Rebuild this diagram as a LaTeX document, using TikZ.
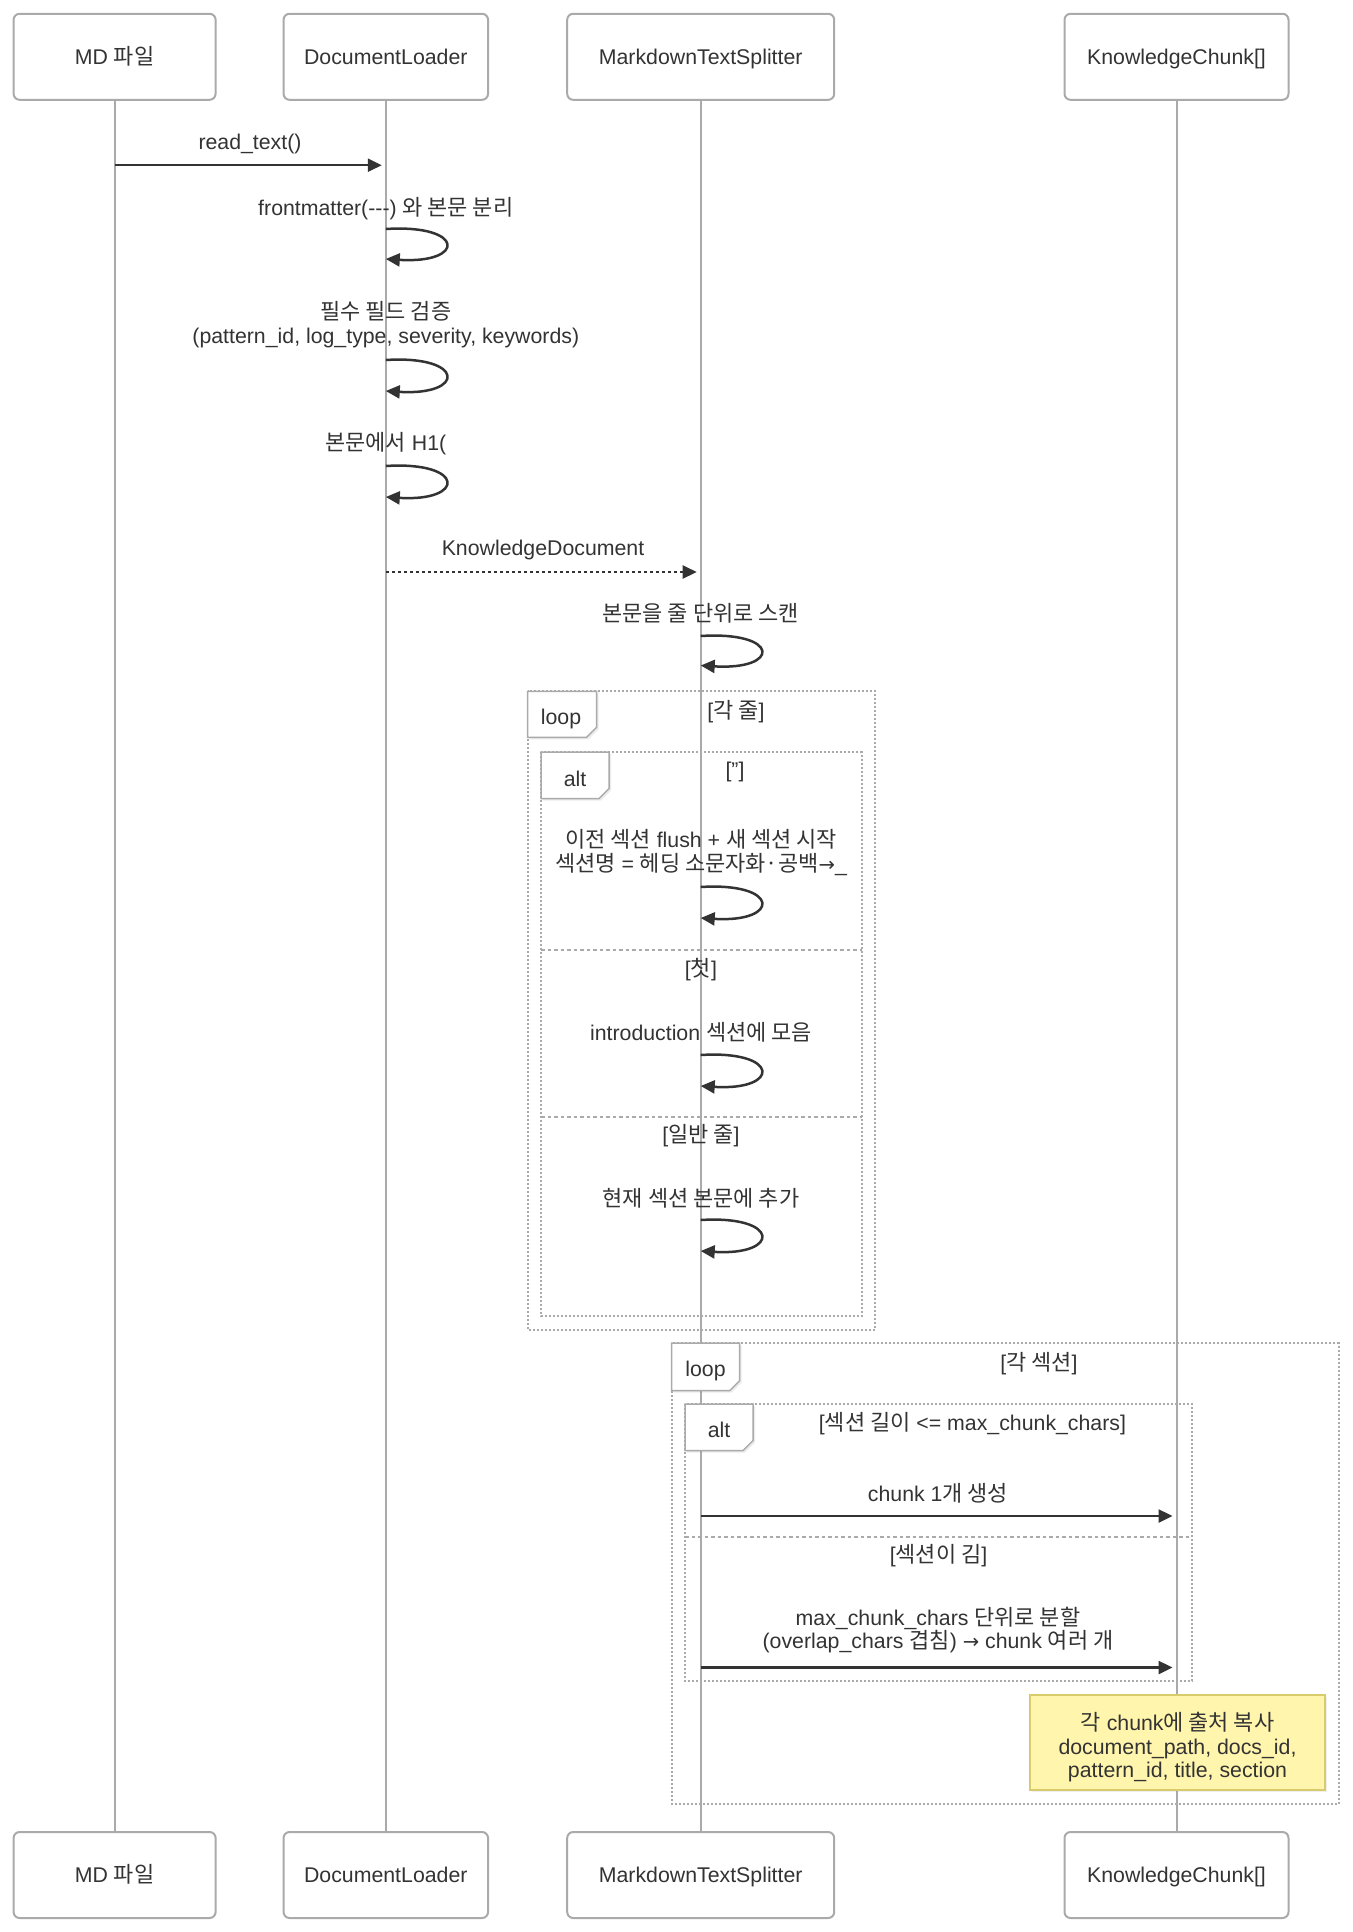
\documentclass[tikz,border=0pt]{standalone}
\usepackage{fontspec}
\setmainfont{Liberation Sans}
\newfontfamily\kr{Noto Sans CJK KR}[Scale=1.03]
\newfontfamily\djv{DejaVu Sans}[Scale=0.92]
\usetikzlibrary{arrows.meta,shadows,calc}
\newcommand\K[1]{{\kr #1}}
\newcommand\RA{{\djv →}}
\definecolor{ink}{HTML}{333333}
\definecolor{lg}{HTML}{AAAAAA}
\definecolor{notefill}{HTML}{FFF5AD}
\definecolor{noteline}{HTML}{D8CB6C}
\tikzset{
  actor/.style={draw=lg, line width=2pt, rounded corners=6pt, fill=white, minimum height=86pt, text=ink, inner sep=0pt, text height=15.3pt, text depth=0pt},
  lifeline/.style={draw=lg, line width=2pt},
  msg/.style={draw=ink, line width=2.5pt, -{Triangle[length=14pt,width=13pt]}},
  reply/.style={msg, dash pattern=on 3pt off 3pt},
  frame/.style={draw=lg, line width=2pt, dash pattern=on 2pt off 2pt},
  divider/.style={draw=lg, line width=2pt, dash pattern=on 3.5pt off 3pt},
  tab/.style={draw=lg, line width=1.5pt, fill=white, drop shadow={shadow xshift=2pt, shadow yshift=-2pt, opacity=0.15}},
  lbl/.style={text=ink, inner sep=0pt, yshift=-2.5pt},
  note/.style={draw=noteline, line width=2pt, fill=notefill, text=ink, inner sep=0pt,
     drop shadow={shadow xshift=2pt, shadow yshift=-2pt, opacity=0.12}},
}
\begin{document}
\begin{tikzpicture}[x=1pt,y=-1pt, every node/.append style={font=\fontsize{21.3}{23.5}\selectfont}]
\useasboundingbox[fill=white] (0,0) rectangle (1352,1932);

% actors
\node[actor, minimum width=202pt]   (md)  at (114.6,56.8) {MD \K{파일}};
\node[actor, minimum width=204.5pt] (dl)  at (385.8,56.8) {DocumentLoader};
\node[actor, minimum width=267pt]   (mts) at (700.7,56.8) {MarkdownTextSplitter};
\node[actor, minimum width=224pt]   (kc)  at (1176.5,56.8) {KnowledgeChunk[]};
\node[actor, minimum width=202pt]   (mdb)  at (114.6,1875) {MD \K{파일}};
\node[actor, minimum width=204.5pt] (dlb)  at (385.8,1875) {DocumentLoader};
\node[actor, minimum width=267pt]   (mtsb) at (700.7,1875) {MarkdownTextSplitter};
\node[actor, minimum width=224pt]   (kcb)  at (1176.5,1875) {KnowledgeChunk[]};

% frames (behind lifelines)
\draw[frame] (527.5,691.4) rectangle (875,1330);
\draw[frame] (541,752) rectangle (861.5,1316);
\draw[divider] (541,950) -- (861.5,950);
\draw[divider] (541,1116.6) -- (861.5,1116.6);
\draw[frame] (671.7,1343) rectangle (1338.5,1804);
\draw[frame] (685,1404) rectangle (1192,1681);
\draw[divider] (685,1537) -- (1192,1537);

% lifelines
\draw[lifeline] (md.south) -- (mdb.north);
\draw[lifeline] (dl.south) -- (dlb.north);
\draw[lifeline] (mts.south) -- (mtsb.north);
\draw[lifeline] (kc.south) -- (kcb.north);

% tabs
\draw[tab] (527.5,691.4) -- ++(69,0) -- ++(0,36) -- ++(-10,10) -- ++(-59,0) -- cycle;
\node[lbl] (lp1) at (561,716) {loop};
\node[lbl] (c1) at (736,708.7) {[\K{각 줄}]};
\draw[tab] (541,752) -- ++(68,0) -- ++(0,36.6) -- ++(-10,10) -- ++(-58,0) -- cycle;
\node[lbl] (al1) at (575,776) {alt};
\node[lbl] (c2) at (735,769) {["]};
\node[lbl] (c3) at (701,967.5) {[\K{첫}]};
\node[lbl] (c4) at (701,1132.7) {[\K{일반 줄}]};

\draw[tab] (671.7,1343) -- ++(68,0) -- ++(0,37.6) -- ++(-10,10) -- ++(-58,0) -- cycle;
\node[lbl] (lp2) at (705.5,1368) {loop};
\node[lbl] (c5) at (1039,1360.7) {[\K{각 섹션}]};
\draw[tab] (685,1404) -- ++(68,0) -- ++(0,36.6) -- ++(-10,10) -- ++(-58,0) -- cycle;
\node[lbl] (al2) at (719,1427) {alt};
\node[lbl] (c6) at (972.5,1421) {[\K{섹션 길이} <= max\_chunk\_chars]};
\node[lbl] (c7) at (938.5,1553) {[\K{섹션이 김}]};

% messages
\node[lbl] (t1) at (250,141.7) {read\_text()};
\draw[msg, shorten >=4pt] (md |- 0,165.2) -- (dl |- 0,165.2);

\node[lbl] (t2) at (385.8,205.8) {frontmatter(-{}-{}-) \K{와 본문 분리}};
\draw[msg] (dl |- 0,229) .. controls +(80,-5) and +(80,5) .. (dl |- 0,259);

\node[lbl, align=center] (t3) at (385.8,322.3) {\K{필수 필드 검증}\\(pattern\_id, log\_type, severity, keywords)};
\draw[msg] (dl |- 0,360) .. controls +(80,-5) and +(80,5) .. (dl |- 0,391);

\node[lbl] (t4) at (385.8,441) {\K{본문에서} H1(};
\draw[msg] (dl |- 0,466) .. controls +(80,-5) and +(80,5) .. (dl |- 0,497);

\node[lbl] (t5) at (543,547) {KnowledgeDocument};
\draw[reply, shorten >=4pt] (dl |- 0,572) -- (mts |- 0,572);

\node[lbl] (t6) at (700.7,611) {\K{본문을 줄 단위로 스캔}};
\draw[msg] (mts |- 0,636) .. controls +(80,-5) and +(80,5) .. (mts |- 0,665.5);

\node[lbl, align=center] (t7) at (701,850) {\K{이전 섹션} flush + \K{새 섹션 시작}\\\K{섹션명} = \K{헤딩 소문자화·공백}\RA\_};
\draw[msg] (mts |- 0,887) .. controls +(80,-5) and +(80,5) .. (mts |- 0,918);

\node[lbl] (t8) at (701,1030) {introduction \K{섹션에 모음}};
\draw[msg] (mts |- 0,1055) .. controls +(80,-5) and +(80,5) .. (mts |- 0,1086);

\node[lbl] (t9) at (701,1195.5) {\K{현재 섹션 본문에 추가}};
\draw[msg] (mts |- 0,1220) .. controls +(80,-5) and +(80,5) .. (mts |- 0,1251);

\node[lbl] (t10) at (938,1491) {chunk 1\K{개 생성}};
\draw[msg, shorten >=4pt] (mts |- 0,1516) -- (kc |- 0,1516);

\node[lbl, align=center] (t11) at (938,1627.5) {max\_chunk\_chars \K{단위로 분할}\\(overlap\_chars \K{겹침}) \RA{} chunk \K{여러 개}};
\draw[msg, shorten >=4pt] (mts |- 0,1667.5) -- (kc |- 0,1667.5);

% note
\node[note, minimum width=295pt, minimum height=95pt] (nt) at (1177.5,1742) {};
\node[lbl, align=center] (ntx) at (1177.5,1745) {\K{각} chunk\K{에 출처 복사}\\document\_path, docs\_id,\\pattern\_id, title, section};
\end{tikzpicture}
\end{document}
